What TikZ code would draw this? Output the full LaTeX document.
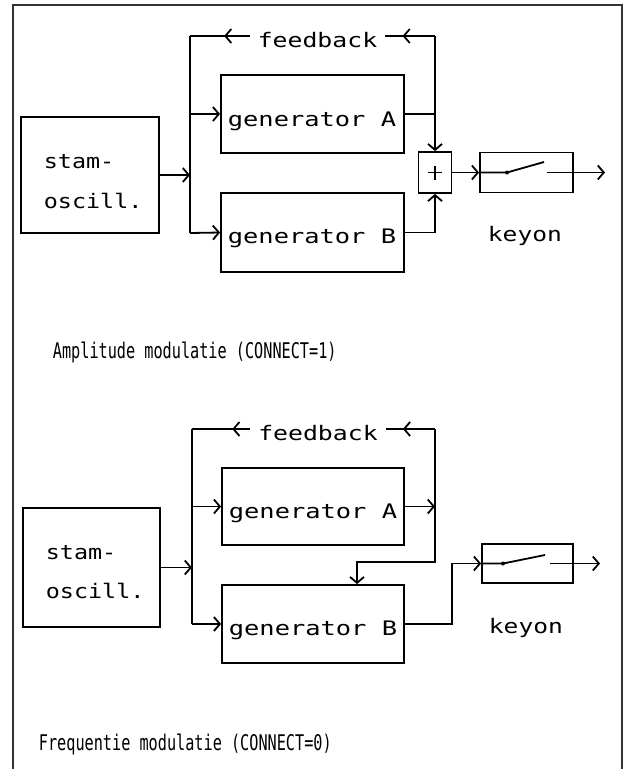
\documentclass[tikz,border=0pt]{standalone}
\usepackage{fontspec}
\usepackage{graphicx}
\newfontfamily\plotfont{DejaVu Sans Mono}
\usetikzlibrary{arrows.meta,decorations.markings}
\newcommand\ptxt[2]{\scalebox{#1}[1]{\plotfont\fontsize{20}{24}\selectfont #2}}
\newcommand\ctxt[1]{\scalebox{0.76}[1.08]{\plotfont\fontsize{20}{24}\selectfont #1}}
\begin{document}
\begin{tikzpicture}[x=1pt,y=-1pt, line width=1.8pt,
  >={Straight Barb[length=6pt,width=14pt]},
  blk/.style={draw, inner sep=0pt},
  lbl/.style={anchor=base west, inner sep=0pt},
  fbtxt/.style={inner xsep=7pt, inner ysep=0pt},
  framel/.style={draw=black!80, line width=1.4pt},
  midarrow/.style={decoration={markings, mark=at position #1 with {\arrow{>}}}, postaction={decorate}}]
\useasboundingbox (0,0) rectangle (626,769);

% frame
\coordinate (fbl) at (13,769); \coordinate (ftl) at (13,5);
\coordinate (ftr) at (622,5); \coordinate (fbr) at (622,769);
\draw[framel] (fbl) -- (ftl) -- (ftr) -- (fbr);

% ================= top diagram =================
\node[blk, minimum width=138pt, minimum height=116pt] (stam1) at (90,175) {};
\node[lbl] at (43,168) {\ptxt{1.17}{stam-}};
\node[lbl] at (43,208) {\ptxt{1.17}{oscill.}};
\node[blk, minimum width=183pt, minimum height=78pt] (gA1) at (312.5,114) {};
\node[lbl] at (227,126) {\ptxt{1.27}{generator A}};
\node[blk, minimum width=183pt, minimum height=79pt] (gB1) at (312.5,232.5) {};
\node[lbl] at (227,243) {\ptxt{1.27}{generator B}};
\node[blk, minimum width=33pt, minimum height=41pt] (plus1) at (435,172.5) {};
\coordinate (pl1) at (428,172.5); \coordinate (pr1) at (442,172.5);
\coordinate (pt1) at (435,165.5); \coordinate (pb1) at (435,179.5);
\draw[line width=1.5pt] (pl1) -- (pr1) (pt1) -- (pb1);
\node[blk, minimum width=93pt, minimum height=40pt] (key1) at (526.5,172.5) {};
\node[lbl] at (487,241) {\ptxt{1.23}{keyon}};
\node[fbtxt] (fb1) at (317.5,40) {\ptxt{1.24}{feedback}};

\coordinate (bt1) at (190,36);
\coordinate (bb1) at (190,233);
\coordinate (fr1) at (435,36);

\draw (bt1) -- (bb1);
\draw[->] (stam1.east) -- (stam1.east -| bt1);
\draw[->] (gA1.west -| bt1) -- (gA1.west);
\draw[->] (bb1) -- (gB1.west);
\draw[midarrow=0.65] (fr1) -- (fr1 -| fb1.east);
\draw[midarrow=0.43] (fr1 -| fb1.west) -- (bt1);
\draw (gA1.east) -- (gA1.east -| fr1);
\draw[->] (fr1) -- (plus1.north);
\draw[->] (gB1.east) -| (plus1.south);
\draw[->] (plus1.east) -- (key1.west);

\coordinate (s1a) at (507,172.5);
\coordinate (s1b) at (544,162);
\coordinate (s1c) at (547,172.5);
\coordinate (s1d) at (605,172.5);
\draw (key1.west) -- (s1a) -- (s1b);
\fill (s1a) circle[radius=2pt];
\draw[->] (s1c) -- (s1d);

\node[lbl] at (52,358) {\ctxt{Amplitude modulatie (CONNECT=1)}};

% ================= bottom diagram =================
\node[blk, minimum width=137pt, minimum height=119pt] (stam2) at (91.5,567.5) {};
\node[lbl] at (45,559) {\ptxt{1.17}{stam-}};
\node[lbl] at (45,598) {\ptxt{1.17}{oscill.}};
\node[blk, minimum width=182pt, minimum height=77pt] (gA2) at (313,506.5) {};
\node[lbl] at (228,518) {\ptxt{1.27}{generator A}};
\node[blk, minimum width=182pt, minimum height=78pt] (gB2) at (313,624) {};
\node[lbl] at (228,635) {\ptxt{1.27}{generator B}};
\node[blk, minimum width=91pt, minimum height=39pt] (key2) at (527.5,563.5) {};
\node[lbl] at (488,633) {\ptxt{1.23}{keyon}};
\node[fbtxt] (fb2) at (318,433) {\ptxt{1.24}{feedback}};

\coordinate (bt2) at (192,429);
\coordinate (bb2) at (192,624);
\coordinate (fr2) at (435,429);
\coordinate (m2) at (435,562);
\coordinate (d2) at (357,562);
\coordinate (o2) at (452,563.5);

\draw (bt2) -- (bb2);
\draw[->] (stam2.east) -- (stam2.east -| bt2);
\draw[->] (gA2.west -| bt2) -- (gA2.west);
\draw[->] (bb2) -- (gB2.west);
\draw[midarrow=0.65] (fr2) -- (fr2 -| fb2.east);
\draw[midarrow=0.31] (fr2 -| fb2.west) -- (bt2);
\draw[->] (gA2.east) -- (gA2.east -| fr2);
\draw[->] (fr2) -- (m2) -- (d2) -- (d2 |- gB2.north);
\draw[->] (gB2.east) -| (o2) -- (key2.west);

\coordinate (s2a) at (503,563.5);
\coordinate (s2b) at (545,555);
\coordinate (s2c) at (550,563.5);
\coordinate (s2d) at (600,563.5);
\draw (key2.west) -- (s2a) -- (s2b);
\fill (s2a) circle[radius=2pt];
\draw[->] (s2c) -- (s2d);

\node[lbl] at (38,750) {\ctxt{Frequentie modulatie (CONNECT=0)}};
\end{tikzpicture}
\end{document}
